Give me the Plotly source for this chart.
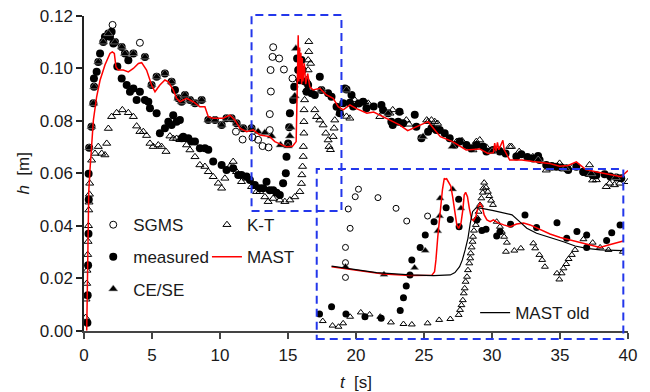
import plotly.graph_objects as go

# ---------------- main plot data ----------------
sgms_t = [2.1, 4.11, 11.17, 11.66, 12.39, 12.8, 13.13, 13.57, 13.66, 13.66, 13.74, 13.72, 13.86, 14.35, 13.91, 14.7, 15.33]
sgms_h = [0.1166, 0.1098, 0.0759, 0.0729, 0.0737, 0.0728, 0.0704, 0.0699, 0.0765, 0.0826, 0.0912, 0.0994, 0.1044, 0.1038, 0.1081, 0.0996, 0.0962]

meas_t = [0.25, 0.27, 0.3, 0.33, 0.35, 0.34,
          0.38, 0.55, 0.69, 0.74, 0.73, 0.93, 1.05, 1.18, 1.42, 1.54, 1.79, 1.91, 2.03, 2.16, 2.28, 2.77, 3.01, 3.26, 3.63,
          4.48, 4.97, 5.34, 5.95, 6.44, 6.69, 6.93, 7.18, 7.42, 7.79, 8.16, 8.65, 9.14, 9.63, 10.12, 10.48, 10.85, 11.22,
          11.7, 12.32,
          2.45, 2.77, 3.14, 3.38, 3.63, 3.87, 4.11, 4.48, 4.73, 4.85, 5.34, 5.58, 5.95, 6.2, 6.44, 6.56, 6.81, 7.05, 7.18,
          7.3, 7.67, 7.91, 8.16, 8.52, 8.89, 9.14, 9.5, 10.12, 10.48, 10.97, 11.34, 11.58, 11.95, 12.2, 12.56, 12.93,
          13.18, 13.42, 13.66, 13.91, 14.16, 14.4, 14.64, 14.84, 14.89, 15.01, 15.09, 15.14, 15.38, 15.46,
          15.67, 15.75, 15.87, 15.99, 16.07, 16.24, 16.36, 16.48, 16.73, 16.97, 17.34, 17.46, 17.95, 18.2, 18.57, 18.81,
          19.06, 19.18, 19.3, 19.55, 19.67, 19.79, 20.2, 20.52, 20.77, 21.3, 21.87, 21.99, 22.36, 22.6, 22.7, 23.1, 23.2,
          23.46, 24.32, 24.44, 24.81, 25.3, 25.55, 25.9, 26.16, 26.52, 26.89, 27.26, 27.63, 28.12, 28.48, 28.85, 29.34,
          29.59, 30.08, 30.57, 31.0, 31.79, 32.16, 32.6, 33.02, 33.39, 33.5, 33.99, 34.4, 34.73, 35.1, 35.46, 35.6, 36.2,
          36.7, 37.0, 37.4, 37.67, 38.28, 38.7, 39.14, 39.5]
meas_h = [0.003, 0.0135, 0.025, 0.037, 0.05, 0.0598,
          0.0698, 0.0778, 0.0867, 0.093, 0.0962, 0.0987, 0.1025, 0.1057, 0.1101, 0.1121, 0.1133, 0.1121, 0.114, 0.1095,
          0.1101, 0.1082, 0.1057, 0.1031, 0.1057,
          0.1044, 0.0937, 0.0968, 0.0981, 0.0949, 0.0918, 0.0886, 0.0873, 0.0899, 0.088, 0.0867, 0.088, 0.0803, 0.0803,
          0.0784, 0.081, 0.081, 0.0791, 0.0772, 0.0772,
          0.1007, 0.0962, 0.0937, 0.0911, 0.0924, 0.088, 0.0911, 0.088, 0.0873, 0.0848, 0.0829, 0.0753, 0.0772, 0.0797,
          0.0784, 0.0822, 0.0797, 0.0803, 0.0734, 0.074, 0.0734, 0.0721, 0.0721, 0.0696, 0.0696, 0.069, 0.0645, 0.0632,
          0.0613, 0.0619, 0.0594, 0.0594, 0.0588, 0.0575, 0.0556, 0.0543, 0.0543, 0.0568, 0.0536, 0.0536, 0.0526,
          0.0517, 0.0562, 0.06, 0.0663, 0.0714, 0.0776, 0.0829, 0.088, 0.093,
          0.1038, 0.0994, 0.0955, 0.1032, 0.0994, 0.095, 0.0911, 0.0937, 0.0905, 0.0899, 0.0968, 0.0918, 0.0905, 0.0892,
          0.0854, 0.0829,
          0.0867, 0.0924, 0.092, 0.0869, 0.0899, 0.0855, 0.0866, 0.0873, 0.0848, 0.0855, 0.0861, 0.0842, 0.0829, 0.0797,
          0.0784, 0.0797, 0.0835, 0.0791, 0.0823, 0.0778, 0.0734, 0.0759, 0.0772, 0.0765, 0.0765, 0.0753, 0.0734, 0.0708,
          0.0721, 0.0708, 0.0696, 0.0708, 0.0702, 0.0683, 0.0689, 0.0683, 0.0676, 0.0664, 0.0673, 0.0662, 0.0657,
          0.0666, 0.0651, 0.0632, 0.0628, 0.0625, 0.0622, 0.0619, 0.0613, 0.0625, 0.0606, 0.0601, 0.0593, 0.0593,
          0.0597, 0.0588, 0.0584, 0.0581]

cese_t = [0.38, 0.55, 0.69, 0.74, 1.05, 1.42, 1.79, 2.28, 2.77, 3.01, 3.63, 4.48, 4.97, 5.34, 5.95, 6.44, 6.93, 7.18,
          7.42, 7.79, 8.16, 8.65, 9.14, 9.63, 10.12, 10.48, 10.85, 11.22, 11.7, 12.32, 12.8, 13.3, 13.79, 14.45, 15.0,
          15.14, 15.2, 15.58, 15.5, 17.46, 19.3, 22.36, 24.93, 27.1, 30.0, 33.4, 35.4, 37.3, 39.1]
cese_h = [0.0698, 0.0778, 0.0867, 0.093, 0.1025, 0.1101, 0.1133, 0.1101, 0.1082, 0.1057, 0.1057, 0.1044, 0.0937,
          0.0968, 0.0981, 0.0949, 0.0886, 0.0873, 0.0899, 0.088, 0.0867, 0.088, 0.0803, 0.0803, 0.0784, 0.081, 0.081,
          0.0791, 0.0772, 0.0772, 0.0759, 0.0755, 0.0742, 0.0708, 0.0704, 0.0742, 0.0776, 0.1076, 0.0895, 0.0918,
          0.0918, 0.0829, 0.074, 0.0702, 0.0683, 0.0651, 0.0619, 0.0599, 0.0584]

kt_t = [0.12, 0.15, 0.2, 0.22, 0.27, 0.3, 0.33, 0.35, 0.37, 0.4, 0.42,
        0.56, 0.81, 1.05, 1.3, 1.54, 1.67, 1.79, 2.03, 2.4, 2.82, 3.26, 3.63, 3.87, 4.11, 4.36, 4.6, 4.85, 5.09, 5.46,
        5.7, 6.03, 6.32, 6.56, 6.81, 7.05, 7.3, 7.54, 7.79, 8.16, 8.52, 8.89, 9.14, 9.5, 9.87, 10.12, 10.36, 10.73,
        10.97, 11.22, 11.58, 11.95, 12.32, 12.69, 12.93, 13.3, 13.54, 13.91, 14.4, 14.77, 15.14, 15.5, 15.87, 15.99,
        16.02, 16.07, 16.12, 16.13, 16.17, 16.17, 16.18, 16.22, 16.36, 16.36, 16.48, 16.48, 16.53, 16.53, 16.66,
        16.97, 17.1, 17.34, 17.58, 17.78, 17.95, 18.02, 18.12, 18.32, 18.39, 18.44, 18.81, 19.3, 19.55, 19.9, 20.65,
        20.9, 21.75, 22.5, 22.7, 23.2, 23.7, 23.9, 25.2, 25.3, 25.55, 25.79, 26.0, 27.4, 27.8, 28.6, 28.85, 29.1, 29.6,
        30.6, 31.3, 31.43, 32.0, 33.0, 33.99, 34.24, 34.97, 35.95, 36.9, 37.17, 37.4, 37.67, 38.4, 38.65, 39.0, 39.4, 40.0]
kt_h = [0.005, 0.012, 0.018, 0.023, 0.029, 0.034, 0.04, 0.046, 0.049, 0.052, 0.0562,
        0.065, 0.0676, 0.0702, 0.0676, 0.067, 0.0714, 0.0771, 0.0816, 0.0831, 0.0842, 0.0831, 0.0816, 0.078, 0.0759,
        0.0759, 0.0744, 0.0714, 0.0702, 0.0708, 0.0702, 0.0683, 0.0742, 0.0733, 0.0733, 0.0728, 0.0728, 0.0708,
        0.0689, 0.0663, 0.0632, 0.0626, 0.0606, 0.0587, 0.0562, 0.0543, 0.0581, 0.0626, 0.0645, 0.0606, 0.0568,
        0.0581, 0.0549, 0.053, 0.053, 0.051, 0.0492, 0.0504, 0.0498, 0.0492, 0.0498, 0.051, 0.053, 0.0561, 0.0594,
        0.0626, 0.0664, 0.0702, 0.0753, 0.0797, 0.0842, 0.088, 0.0918, 0.0956, 0.0994, 0.1032, 0.1064, 0.1102, 0.1019,
        0.0842, 0.0816, 0.0803, 0.0784, 0.0753, 0.0727, 0.0702, 0.069, 0.074, 0.0772, 0.0803, 0.0829, 0.0817, 0.081,
        0.088, 0.0873, 0.0867, 0.0816, 0.0829, 0.0842, 0.0835, 0.0803, 0.0787, 0.0803, 0.0797, 0.0803, 0.0797, 0.079,
        0.0721, 0.0724, 0.0689, 0.0721, 0.0727, 0.0699, 0.069, 0.0702, 0.0702, 0.0683, 0.0663, 0.0612, 0.0619, 0.0638,
        0.0625, 0.0599, 0.0632, 0.0574, 0.0575, 0.0549, 0.0562, 0.0556, 0.0562, 0.0568]

mast_t = [0.2, 0.25, 0.3, 0.35, 0.44, 0.56, 0.69, 0.93, 1.18, 1.54, 1.91, 2.08, 2.23, 2.35, 2.52, 2.89, 3.26, 3.63,
          4.0, 4.24, 4.6, 4.97, 5.22, 5.58, 5.95, 6.2, 6.56, 6.81, 7.05, 7.54, 8.03, 8.52, 8.89, 9.14, 9.5, 10.24, 10.73,
          11.1, 11.46, 11.95, 12.44, 12.93, 13.66, 14.03, 14.52, 14.89, 15.33, 15.6, 15.68, 15.75, 15.8, 15.85, 15.9,
          15.95, 16.0, 16.05, 16.1, 16.2, 16.3, 16.45, 16.6, 16.85, 17.34, 17.83, 18.32, 18.69, 19.06, 19.55, 20.0,
          20.8, 21.3, 21.75, 22.5, 23.2, 23.8, 24.7, 25.3, 26.2, 27.1, 28.1, 29.1, 29.7, 30.1, 30.2, 30.3, 30.4, 30.5,
          30.8, 30.9, 31.3, 32.2, 33.0, 34.2, 34.97, 35.6, 36.2, 36.9, 37.9, 38.9, 39.5, 40.0]
mast_h = [0.0, 0.02, 0.04, 0.053, 0.0613, 0.0714, 0.0803, 0.0892, 0.0955, 0.1013, 0.1057, 0.1063, 0.1057, 0.1006,
          0.0994, 0.0994, 0.0987, 0.1, 0.1019, 0.1022, 0.0994, 0.0937, 0.0911, 0.0937, 0.0956, 0.0949, 0.0918, 0.0886,
          0.0873, 0.0886, 0.0873, 0.0854, 0.0854, 0.0816, 0.081, 0.081, 0.0822, 0.0803, 0.0772, 0.0759, 0.0766, 0.0746,
          0.074, 0.0721, 0.0708, 0.0701, 0.0703, 0.0721, 0.093, 0.1127, 0.095, 0.108, 0.096, 0.106, 0.094, 0.104, 0.095,
          0.102, 0.094, 0.098, 0.093, 0.0918, 0.0924, 0.0899, 0.0886, 0.0854, 0.0842, 0.0861, 0.0848, 0.0829, 0.0834,
          0.0823, 0.0803, 0.0785, 0.0763, 0.0785, 0.0797, 0.074, 0.0721, 0.0689, 0.0693, 0.0676, 0.0679, 0.0715, 0.0685,
          0.0718, 0.069, 0.0726, 0.069, 0.0651, 0.0651, 0.0645, 0.0638, 0.0627, 0.063, 0.0644, 0.0614, 0.0603, 0.0594,
          0.0587, 0.0611]

# ---------------- inset (zoom of dashed region) data ----------------
in_meas_t = [12.38, 12.64, 12.95, 13.36, 13.71, 14.12, 14.19, 14.25, 14.33, 14.37, 14.55, 14.66, 14.85, 15.11, 15.20,
             15.38, 15.39, 15.77, 15.88, 15.97, 16.20, 16.27, 16.50, 16.81, 17.06, 17.50, 17.71, 17.93, 18.14, 18.14,
             18.57, 18.68, 18.86]
in_meas_h = [0.0566, 0.0598, 0.0566, 0.0554, 0.0547, 0.0581, 0.0638, 0.0689, 0.0738, 0.0804, 0.0859, 0.0914, 0.0972,
             0.1034, 0.0982, 0.1071, 0.0950, 0.0980, 0.0933, 0.0939, 0.0909, 0.0928, 0.0961, 0.1002, 0.0947, 0.0968,
             0.0899, 0.0929, 0.0859, 0.0914, 0.0889, 0.0924, 0.0958]
in_cese_t = [12.94, 13.77, 14.43, 14.66, 14.93, 14.97, 14.98, 15.25, 15.43]
in_cese_h = [0.0774, 0.0740, 0.0770, 0.0845, 0.0931, 0.0997, 0.1075, 0.1115, 0.1031]
in_sgms_t = [12.94, 12.94, 12.94, 13.04, 13.00, 13.15, 13.22, 13.64, 14.03, 14.26, 14.71]
in_sgms_h = [0.0727, 0.0792, 0.0859, 0.0943, 0.1028, 0.1082, 0.1115, 0.1078, 0.1031, 0.0975, 0.0997]
in_kt_t = [12.45, 12.66, 12.79, 12.89, 13.04, 13.27, 13.46, 13.69, 13.92, 14.19, 14.37, 14.71, 14.96, 15.20, 15.38,
           15.41, 15.44, 15.47, 15.49, 15.51, 15.53, 15.56, 15.58, 15.61, 15.63, 15.64, 15.66, 15.68, 15.69, 15.71,
           15.75, 15.79, 15.81, 15.84, 15.87, 15.90, 15.91, 15.93,
           15.97, 16.01, 16.04, 16.08, 16.12, 16.20, 16.27, 16.31, 16.36, 16.42, 16.40, 16.58, 16.72, 16.99, 17.03,
           17.12, 17.18, 17.24, 17.50, 17.55, 17.60, 17.64, 17.70, 17.75, 17.82, 17.89, 18.07, 18.27, 18.43, 18.61, 18.92]
in_kt_h = [0.0535, 0.0515, 0.0510, 0.0525, 0.0554, 0.0573, 0.0564, 0.0554, 0.0529, 0.0522, 0.0520, 0.0525, 0.0540,
           0.0544, 0.0562,
           0.0584, 0.0605, 0.0627, 0.0657, 0.0679, 0.0708, 0.0730, 0.0759, 0.0789, 0.0811, 0.0833, 0.0859, 0.0884,
           0.0906, 0.0933, 0.0958, 0.0987, 0.1016, 0.1046, 0.1075, 0.1100, 0.1119, 0.1144,
           0.1123, 0.1104, 0.1085, 0.1065, 0.1046, 0.0972, 0.0950, 0.0928, 0.0906, 0.0880, 0.0840, 0.0845, 0.0855,
           0.0877, 0.0855, 0.0826, 0.0804, 0.0774, 0.0745, 0.0718, 0.0745, 0.0767, 0.0786, 0.0808, 0.0826, 0.0848,
           0.0895, 0.0880, 0.0859, 0.0848, 0.0840]
in_mast_t = [12.64, 13.18, 13.76, 14.33, 14.80, 14.86, 14.89, 14.93, 14.98, 15.03, 15.07, 15.09, 15.12, 15.16, 15.21,
             15.25, 15.30, 15.34, 15.38, 15.43, 15.47, 15.50, 15.53, 15.57, 15.61, 15.66, 15.70, 15.75, 15.80, 15.84,
             15.89, 15.93, 15.99, 16.06, 16.13, 16.22, 16.35, 16.49, 16.63, 16.78, 16.92, 17.06, 17.21, 17.35, 17.57,
             17.78, 18.00, 18.22, 18.43, 18.57, 18.75, 18.93]
in_mast_h = [0.0774, 0.0757, 0.0742, 0.0735, 0.0736, 0.0752, 0.0804, 0.0906, 0.1024, 0.1112, 0.1163, 0.1159, 0.1161,
             0.1144, 0.1129, 0.1082, 0.1009, 0.0958, 0.0943, 0.0965, 0.1024, 0.1090, 0.1101, 0.1082, 0.1031, 0.0983,
             0.0977, 0.0994, 0.1038, 0.1053, 0.1038, 0.1002, 0.0980, 0.0972, 0.0980, 0.0968, 0.0958, 0.0950, 0.0962,
             0.0966, 0.0958, 0.0946, 0.0930, 0.0918, 0.0903, 0.0892, 0.0881, 0.0868, 0.0859, 0.0867, 0.0878, 0.0887]
in_old_t = [12.64, 13.61, 14.33, 14.84, 15.20, 15.30, 15.40, 15.46, 15.52, 15.58, 15.63, 15.68, 15.76, 15.88, 16.13,
            16.35, 16.53, 16.67, 16.85, 17.06, 17.35, 17.64, 17.89, 18.14, 18.43, 18.72, 18.92]
in_old_h = [0.0777, 0.0748, 0.0738, 0.0735, 0.0738, 0.0748, 0.0774, 0.0804, 0.0848, 0.0899, 0.0965, 0.1016, 0.1034,
            0.1031, 0.1021, 0.1012, 0.1002, 0.0977, 0.0943, 0.0921, 0.0903, 0.0884, 0.0865, 0.0855, 0.0848, 0.0845,
            0.0845]

# zoomed window (main data units) and the inset window that shows it
zoom_t = [12.32, 18.93]
zoom_h = [0.0456, 0.1204]
x_ticks = [0, 5, 10, 15, 20, 25, 30, 35, 40]
y_ticks = [0.00, 0.02, 0.04, 0.06, 0.08, 0.10, 0.12]

FONT = "Liberation Sans, Arial, sans-serif"
BLUE = "rgb(35,55,235)"
RED = "rgb(255,0,0)"

fig = go.Figure()

def add_sets(xa, ya, sg, me, ce, kt, red, show, sz):
    fig.add_trace(go.Scatter(x=kt[0], y=kt[1], mode="markers", xaxis=xa, yaxis=ya, name="K-T",
                             marker=dict(symbol="triangle-up-open", size=sz, color="black", line=dict(width=1)),
                             legend="legend2", legendgroup="kt", showlegend=show))
    fig.add_trace(go.Scatter(x=sg[0], y=sg[1], mode="markers", xaxis=xa, yaxis=ya, name="SGMS",
                             marker=dict(symbol="circle-open", size=sz, color="black", line=dict(width=1)),
                             legend="legend", legendgroup="sg", showlegend=show))
    fig.add_trace(go.Scatter(x=me[0], y=me[1], mode="markers", xaxis=xa, yaxis=ya, name="measured",
                             marker=dict(symbol="circle", size=sz + 1, color="black"),
                             legend="legend", legendgroup="me", showlegend=show))
    fig.add_trace(go.Scatter(x=ce[0], y=ce[1], mode="markers", xaxis=xa, yaxis=ya, name="CE/SE",
                             marker=dict(symbol="triangle-up", size=sz + 1, color="black",
                                         line=dict(width=0.6, color="#999")),
                             legend="legend", legendgroup="ce", showlegend=show))
    fig.add_trace(go.Scatter(x=red[0], y=red[1], mode="lines", xaxis=xa, yaxis=ya, name="MAST",
                             line=dict(color=RED, width=1.5),
                             legend="legend2", legendgroup="ma", showlegend=show))

add_sets("x", "y", (sgms_t, sgms_h), (meas_t, meas_h), (cese_t, cese_h), (kt_t, kt_h), (mast_t, mast_h), True, 7)
add_sets("x2", "y2", (in_sgms_t, in_sgms_h), (in_meas_t, in_meas_h), (in_cese_t, in_cese_h),
         (in_kt_t, in_kt_h), (in_mast_t, in_mast_h), False, 6)
fig.add_trace(go.Scatter(x=in_old_t, y=in_old_h, mode="lines", xaxis="x2", yaxis="y2", name="MAST old",
                         line=dict(color="black", width=1.2), legend="legend3"))

# plot area: x 84..628 px, y 16..345 px
fig.update_layout(
    width=650, height=392,
    margin=dict(l=84, r=22, t=16, b=47, autoexpand=False),
    paper_bgcolor="white", plot_bgcolor="rgba(0,0,0,0)",
    font=dict(family=FONT, size=17, color="#1a1a1a"),
    xaxis=dict(domain=[0, 1], range=[0, 40], tickvals=x_ticks, ticks="outside", ticklen=6, tickwidth=1.5,
               tickcolor="#444", showline=True, linecolor="#444", linewidth=2, showgrid=False, zeroline=False,
               anchor="y", automargin=False,
               title=dict(text="<i>t</i>\u00a0 [s]", font=dict(size=17), standoff=12),
               tickfont=dict(size=17), ticklabelstandoff=2),
    yaxis=dict(domain=[0.0435, 1], range=[0, 0.12], tickvals=y_ticks, tickformat=".2f", ticks="outside",
               ticklen=6, tickwidth=1.5, tickcolor="#222", showline=True, linecolor="#222", linewidth=1.5,
               showgrid=False, zeroline=False, anchor="x", automargin=False,
               title=dict(text="<i>h</i>\u00a0 [m]", font=dict(size=17), standoff=6), tickfont=dict(size=17)),
    xaxis2=dict(domain=[0.4278, 0.9914], range=zoom_t, visible=False, anchor="y2"),
    yaxis2=dict(domain=[0.0182, 0.535], range=zoom_h, visible=False, anchor="x2"),
    legend=dict(x=0.017, y=0.419, xanchor="left", yanchor="top", bgcolor="rgba(0,0,0,0)",
                font=dict(size=17, family=FONT), tracegroupgap=7, traceorder="grouped"),
    legend2=dict(x=0.226, y=0.419, xanchor="left", yanchor="top", bgcolor="rgba(0,0,0,0)",
                 font=dict(size=17, family=FONT), tracegroupgap=7, traceorder="grouped"),
    legend3=dict(x=0.719, y=0.152, xanchor="left", yanchor="top", bgcolor="rgba(0,0,0,0)",
                 font=dict(size=17, family=FONT)),
    shapes=[
        dict(type="rect", xref="x", yref="paper", x0=zoom_t[0], x1=zoom_t[1], y0=0.4073, y1=1.003,
             line=dict(color=BLUE, width=2, dash="8px,5px"), fillcolor="rgba(0,0,0,0)", layer="above"),
        dict(type="rect", xref="paper", yref="paper", x0=0.4278, x1=0.9914, y0=0.0182, y1=0.535,
             line=dict(color=BLUE, width=2, dash="8px,5px"), fillcolor="rgba(0,0,0,0)", layer="above"),
    ],
)

fig.write_html("out.html")
